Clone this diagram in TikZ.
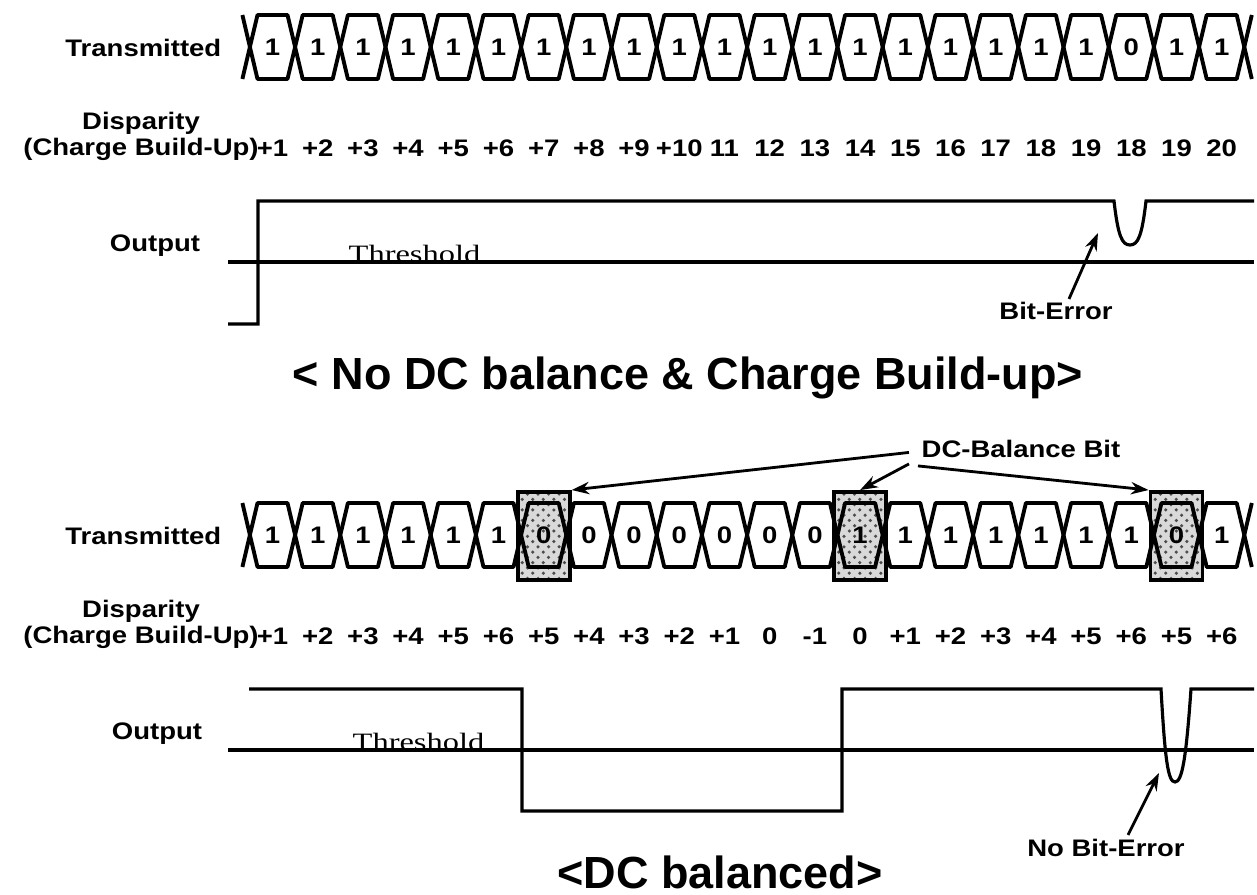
\documentclass[tikz,border=0pt]{standalone}
\usepackage{fontspec}
\setmainfont{Liberation Sans}
\newfontfamily\lblfont[FakeStretch=1.15]{Liberation Sans}
\newfontfamily\thrfont[FakeStretch=1.3]{Liberation Serif}
\usetikzlibrary{arrows.meta,patterns,calc}

% one bit of the bus waveform: #1 = centre x, #2 = middle y
\newcommand\bitcell[2]{%
  \draw[wave] ({#1-15},{#2-32}) -- ({#1+15},{#2-32}) -- ({#1+22.6},#2)
    -- ({#1+15},{#2+32}) -- ({#1-15},{#2+32}) -- ({#1-22.6},#2) -- cycle;}

\begin{document}
\begin{tikzpicture}[
  x=0.01cm, y=-0.01cm,
  every node/.style={font=\lblfont\bfseries\fontsize{6.8}{7.5}\selectfont,inner sep=0pt},
  wave/.style={line width=1.1pt,line join=round},
  sig/.style={line width=0.9pt,line join=miter},
  title/.style={font=\bfseries\fontsize{12.8}{14}\selectfont},
  thr/.style={font=\thrfont\fontsize{7.1}{8}\selectfont,anchor=base west},
  pointer/.style={line width=0.8pt,-{Stealth[length=5pt,width=3.5pt]}},
  balbox/.style={draw,line width=1.1pt,minimum width=0.52cm,minimum height=0.88cm,
                 preaction={fill=gray!30},pattern=crosshatch dots,pattern color=black!70}
]
\useasboundingbox (0,0) rectangle (1257,895);
% ---------------- no DC balance ----------------
\node[anchor=base east] (tlbl1) at (222,57) {Transmitted};
\draw[wave] (242.4,15) -- (249.9,47) -- (242.4,79);
\foreach \b [count=\i from 0] in {1,1,1,1,1,1,1,1,1,1,1,1,1,1,1,1,1,1,1,0,1,1} {
  \pgfmathsetmacro\cx{272.5+45.2*\i}
  \bitcell{\cx}{47}
  \node (tx\i) at (\cx,47) {\b};
}
\draw[wave] (1251.8,15) -- (1244.3,47) -- (1251.8,79);
% Disparity row
\node[anchor=base] (dlbl1) at (141,130) {Disparity};
\node[anchor=base] (clbl1) at (141,156) {(Charge Build-Up)};
\foreach \d [count=\i from 0] in {+1,+2,+3,+4,+5,+6,+7,+8,+9,+10,11,12,13,14,15,16,17,18,19,18,19,20}
  \node[anchor=base] (dx\i) at ({272.5+45.2*\i},157) {\d};
% Output
\node[anchor=base] (olbl1) at (155,252) {Output};
\draw[sig] (228,262) -- (1254,262);
\node[thr] (thr1) at (348,263) {Threshold};
\draw[sig] (228,324) -- (258,324) -- (258,201) -- (1114,201)
  .. controls (1118,236) and (1122,245) .. (1130,245)
  .. controls (1138,245) and (1142,236) .. (1146,201) -- (1254,201);
\node[anchor=base] (berr) at (1056,320) {Bit-Error};
\coordinate (dip1) at (1098,233);
\draw[pointer] ($(berr.north)+(13,-3)$) -- (dip1);
\node[title,anchor=base] (ttl1) at (688,390) {< No DC balance \& Charge Build-up>};
% ---------------- DC balanced ----------------
\node[anchor=base east] (tlbl2) at (222,545) {Transmitted};
% DC-balance bits
\node[balbox] (bal6)  at ({272.5+45.2*6},536) {};
\node[balbox] (bal13) at ({272.5+45.2*13},536) {};
\node[balbox] (bal20) at ({272.5+45.2*20},536) {};
\draw[wave] (242.4,503) -- (249.9,535) -- (242.4,567);
\foreach \b [count=\i from 0] in {1,1,1,1,1,1,0,0,0,0,0,0,0,1,1,1,1,1,1,1,0,1} {
  \pgfmathsetmacro\cx{272.5+45.2*\i}
  \bitcell{\cx}{535}
  \node (bx\i) at (\cx,535) {\b};
}
\draw[wave] (1251.8,503) -- (1244.3,535) -- (1251.8,567);
\node[anchor=base] (dcb) at (1021,458) {DC-Balance Bit};
\draw[pointer] ($(dcb.west)+(-12,3)$) -- (bal6.north east);
\draw[pointer] ($(dcb.south west)+(-12,5)$) -- (bal13.north);
\draw[pointer] ($(dcb.south west)+(-3,7)$) -- (bal20.north west);
% Disparity row
\node[anchor=base] (dlbl2) at (141,618) {Disparity};
\node[anchor=base] (clbl2) at (141,644) {(Charge Build-Up)};
\foreach \d [count=\i from 0] in {+1,+2,+3,+4,+5,+6,+5,+4,+3,+2,+1,0,-1,0,+1,+2,+3,+4,+5,+6,+5,+6}
  \node[anchor=base] (dy\i) at ({272.5+45.2*\i},645) {\d};
% Output
\node[anchor=base] (olbl2) at (157,740) {Output};
\draw[sig] (228,750) -- (1254,750);
\node[thr] (thr2) at (352,751) {Threshold};
\draw[sig] (249,689) -- (522,689) -- (522,811) -- (842,811) -- (842,689) -- (1161,689)
  .. controls (1165,760) and (1168,782) .. (1175,782)
  .. controls (1182,782) and (1186,760) .. (1191,689) -- (1254,689);
\node[anchor=base] (nberr) at (1106,857) {No Bit-Error};
\coordinate (dip2) at (1159,773);
\draw[pointer] ($(nberr.north)+(22,-4)$) -- (dip2);
\node[title,anchor=base] (ttl2) at (720,889) {<DC balanced>};
\end{tikzpicture}
\end{document}
